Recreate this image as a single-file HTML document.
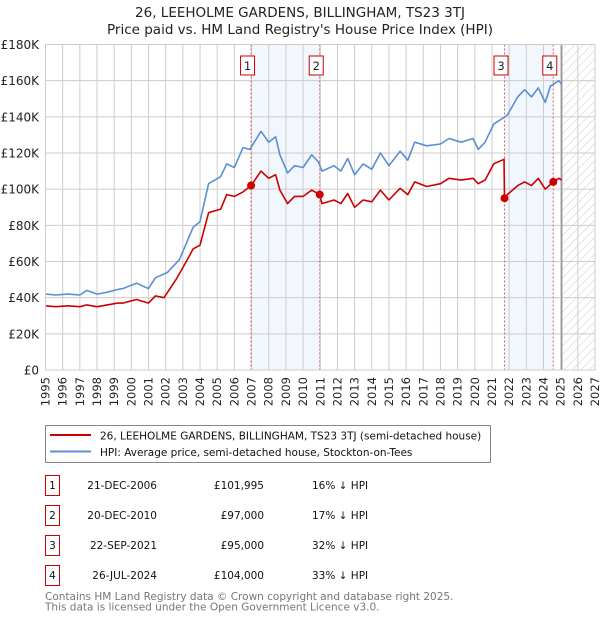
<!DOCTYPE html>
<html><head><meta charset="utf-8"><style>
body{margin:0;background:#fff;font-family:"DejaVu Sans","Liberation Sans",sans-serif;}
svg text{font-family:"DejaVu Sans","Liberation Sans",sans-serif;}
</style></head><body>
<svg id="chart" width="600" height="620" viewBox="0 0 600 620" xmlns="http://www.w3.org/2000/svg">
<defs><pattern id="hatch" width="6" height="6" patternUnits="userSpaceOnUse" patternTransform="rotate(45)"><line x1="0" y1="0" x2="0" y2="6" stroke="#ccc" stroke-width="1"/></pattern></defs>
<text x="300" y="17" text-anchor="middle" font-size="13.5" fill="#222">26, LEEHOLME GARDENS, BILLINGHAM, TS23 3TJ</text>
<text x="300" y="34" text-anchor="middle" font-size="13.5" fill="#222">Price paid vs. HM Land Registry's House Price Index (HPI)</text>
<g id="plot"></g>
<g>
<rect x="45.5" y="425.5" width="445" height="37" fill="#fff" stroke="#888"/>
<line x1="50" y1="435" x2="91" y2="435" stroke="#cc0000" stroke-width="2"/>
<text x="100" y="439.5" font-size="10.5" fill="#111">26, LEEHOLME GARDENS, BILLINGHAM, TS23 3TJ (semi-detached house)</text>
<line x1="50" y1="451.5" x2="91" y2="451.5" stroke="#5b8fd4" stroke-width="2"/>
<text x="100" y="456" font-size="10.5" fill="#111">HPI: Average price, semi-detached house, Stockton-on-Tees</text>
</g>
<g id="table"></g>
<text x="45" y="600" font-size="10.5" fill="#777">Contains HM Land Registry data © Crown copyright and database right 2025.</text>
<text x="45" y="610.5" font-size="10.5" fill="#777">This data is licensed under the Open Government Licence v3.0.</text>
</svg>
<script>
const yTicks=[0,20,40,60,80,100,120,140,160,180];
const yTickLabels=["£0","£20K","£40K","£60K","£80K","£100K","£120K","£140K","£160K","£180K"];
const xTicks=[1995,1996,1997,1998,1999,2000,2001,2002,2003,2004,2005,2006,2007,2008,2009,2010,2011,2012,2013,2014,2015,2016,2017,2018,2019,2020,2021,2022,2023,2024,2025,2026,2027];
const hpiYears=[1995,1995.6,1996.3,1997,1997.4,1998,1998.6,1999.2,1999.5,2000.3,2001,2001.4,2002.1,2002.8,2003.2,2003.6,2004,2004.5,2005.2,2005.55,2006,2006.5,2006.9,2007.55,2008,2008.4,2008.65,2009.1,2009.5,2010,2010.5,2010.9,2011.1,2011.8,2012.2,2012.6,2013,2013.5,2014,2014.5,2015,2015.65,2016.1,2016.5,2017.2,2018,2018.5,2019.2,2019.9,2020.2,2020.6,2021.1,2021.6,2021.9,2022.5,2022.9,2023.3,2023.7,2024.1,2024.4,2024.9,2025.06];
const hpiValues=[42,41.5,42,41.5,44,42,43,44.5,45,48,45,51,54,61,70,79,82,103,107,114,112,123,122,132,126,129,119,109,113,112,119,115,110,113,110,117,108,114,111,120,113,121,116,126,124,125,128,126,128,122,126,136,139,141,151,155,151,156,148,157,160,158];
const saleYears=[1995,1995.6,1996.3,1997,1997.4,1998,1998.6,1999.2,1999.5,2000.3,2001,2001.4,2001.9,2002.6,2003.2,2003.6,2004,2004.5,2005.2,2005.55,2006,2006.5,2006.97,2007.55,2008,2008.4,2008.65,2009.1,2009.5,2010,2010.5,2010.97,2011.1,2011.8,2012.2,2012.6,2013,2013.5,2014,2014.5,2015,2015.65,2016.1,2016.5,2017.2,2018,2018.5,2019.2,2019.9,2020.2,2020.6,2021.1,2021.7,2021.73,2021.9,2022.5,2022.9,2023.3,2023.7,2024.1,2024.57,2024.9,2025.06];
const saleValues=[35.5,35,35.5,35,36,35,36,37,37,39,37,41,40,50,60,67,69,87,89,97,96,98.5,102,110,106,108,99.5,92,96,96,99.5,97,92,94,92,97.6,90,94,93,99.5,94,100.5,97,104,101.5,103,106,105,106,103,105,114,116.5,95,97,102,104,102,106,100,104,106,105];
const salePoints=[2006.97,2010.97,2021.73,2024.57];
const salePrices=[101.995,97,95,104];
const saleLabels=["1","2","3","4"];
const saleDates=["21-DEC-2006","20-DEC-2010","22-SEP-2021","26-JUL-2024"];
const salePriceText=["£101,995","£97,000","£95,000","£104,000"];
const salePct=["16% ↓ HPI","17% ↓ HPI","32% ↓ HPI","33% ↓ HPI"];
const dataEnd=2025.06;

const NS="http://www.w3.org/2000/svg";
const X0=45.5,X1=595,Y0=370,Y1=44.5,xMin=1995,xMax=2027,yMax=180;
const xs=v=>X0+(v-xMin)/(xMax-xMin)*(X1-X0);
const ys=v=>Y0-(v/yMax)*(Y0-Y1);
const plot=document.getElementById('plot');
function mk(tag,attrs,parent){const e=document.createElementNS(NS,tag);for(const k in attrs)e.setAttribute(k,attrs[k]);(parent||plot).appendChild(e);return e;}

for(let i=0;i<salePoints.length;i+=2){
  const r=mk('rect',{x:xs(salePoints[i]),y:Y1,width:xs(salePoints[i+1])-xs(salePoints[i]),height:Y0-Y1,fill:'#eef3fc',opacity:'0.75'});
  
  
}
const hr=mk('rect',{x:xs(dataEnd),y:Y1,width:X1-xs(dataEnd),height:Y0-Y1,fill:'url(#hatch)'});


yTicks.forEach((t,i)=>{
  const l=mk('line',{x1:X0,x2:X1,y1:ys(t),y2:ys(t),stroke:'#cccccc','stroke-width':1});
  
  
  const tx=mk('text',{x:39,y:ys(t)+4.5,'text-anchor':'end','font-size':'12',fill:'#222'});
  tx.textContent=yTickLabels[i];
  
  
});
xTicks.forEach(t=>{
  const l=mk('line',{x1:xs(t),x2:xs(t),y1:Y1,y2:Y0,stroke:'#cccccc','stroke-width':1});
  
  
  const tx=mk('text',{x:0,y:0,'text-anchor':'end','font-size':'11.5',fill:'#222',transform:'translate('+(xs(t)+4)+',377) rotate(-90)'});
  tx.textContent=t;
  
  
});
const ve=mk('line',{x1:xs(dataEnd),x2:xs(dataEnd),y1:Y1,y2:Y0,stroke:'#999','stroke-width':1.5});


salePoints.forEach((s,i)=>{
  const l=mk('line',{x1:xs(s),x2:xs(s),y1:Y1,y2:Y0,stroke:'#e06060','stroke-width':1,'stroke-dasharray':'2,2'});
  
  
  const g=mk('g',{});
  
  
  mk('rect',{x:xs(s)-10.5,y:56,width:14,height:19,fill:'#fff',stroke:'#cc0000','stroke-width':1},g);
  const t=mk('text',{x:xs(s)-3.5,y:70,'text-anchor':'middle','font-size':'11.5',fill:'#222'},g);
  t.textContent=saleLabels[i];
});
function path(xa,va,color,name){
  const d=xa.map((x,i)=>(i?'L':'M')+xs(x).toFixed(1)+','+ys(va[i]).toFixed(1)).join('');
  const p=mk('path',{d:d,fill:'none',stroke:color,'stroke-width':1.6,'stroke-linejoin':'round'});
  
  
}
path(hpiYears,hpiValues,'#5b8fd4','hpi-line');
path(saleYears,saleValues,'#cc0000','property-price-line');
salePoints.forEach((s,i)=>{
  const c=mk('circle',{cx:xs(s),cy:ys(salePrices[i]),r:4,fill:'#cc0000'});
  
  
});
mk('rect',{x:X0,y:Y1,width:X1-X0,height:Y0-Y1,fill:'none',stroke:'#cccccc'});
const tb=document.getElementById('table');
saleLabels.forEach((lab,i)=>{
  const y=475+i*30;
  const g=mk('g',{},tb);
  
  
  mk('rect',{x:45.5,y:y+0.5,width:14,height:20,fill:'#fff',stroke:'#cc0000'},g);
  const a=mk('text',{x:52.5,y:y+14,'text-anchor':'middle','font-size':'10.5',fill:'#111'},g);a.textContent=lab;
  const b=mk('text',{x:157,y:y+14,'text-anchor':'end','font-size':'10.5',fill:'#111'},g);b.textContent=saleDates[i];
  const c=mk('text',{x:264,y:y+14,'text-anchor':'end','font-size':'10.5',fill:'#111'},g);c.textContent=salePriceText[i];
  const d=mk('text',{x:312,y:y+14,'font-size':'10.5',fill:'#111'},g);d.textContent=salePct[i];
});
</script>
</body></html>
